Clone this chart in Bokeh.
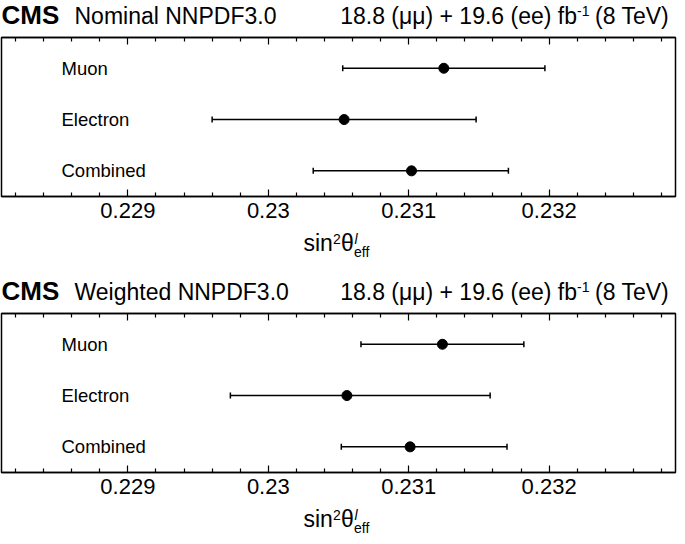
from bokeh.plotting import figure
from bokeh.models import (ColumnDataSource, Whisker, TeeHead, Label, FixedTicker,
                          LinearAxis, CustomJSTickFormatter, Range1d)
from bokeh.layouts import column
from bokeh.embed import file_html
from bokeh.resources import INLINE

# ---------------- data ----------------
categories = ["Muon", "Electron", "Combined"]
cat_pos = [2.5, 1.5, 0.5]

nominal_val = [0.23125, 0.23054, 0.23102]
nominal_lo = [0.23053, 0.22960, 0.23032]
nominal_hi = [0.23197, 0.23148, 0.23171]

weighted_val = [0.23124, 0.23056, 0.23101]
weighted_lo = [0.23066, 0.22973, 0.23052]
weighted_hi = [0.23182, 0.23158, 0.23170]

major_ticks = [0.229, 0.230, 0.231, 0.232]
tick_labels = ["0.229", "0.23", "0.231", "0.232"]
x_min, x_max = 0.2281, 0.2329
panel_titles = ["Nominal NNPDF3.0", "Weighted NNPDF3.0"]
lumi_main = "18.8 (\u03bc\u03bc) + 19.6 (ee) fb"
lumi_sup = "-1"
lumi_end = " (8 TeV)"

FONT = "Liberation Sans"
FRAME_W, FRAME_H = 674, 159
Y_MAX = 3.1
BL, BR = 1, 2
MID = 0.35  # middle of text box above baseline, in em

minor_ticks = [round(0.2282 + 0.0002 * i, 4) for i in range(24)]
minor_ticks = [t for t in minor_ticks if t not in [round(m, 4) for m in major_ticks]]


def strip(height):
    s = figure(frame_width=FRAME_W, frame_height=height,
               x_range=Range1d(x_min, x_max), y_range=Range1d(0, height),
               output_backend="svg", toolbar_location=None,
               x_axis_location=None, y_axis_location=None,
               min_border=0, min_border_left=BL, min_border_right=BR)
    s.grid.grid_line_color = None
    s.outline_line_color = None
    s.background_fill_color = "white"
    s.border_fill_color = "white"
    return s


def lab(x, baseline, text, size_px, xo=0, align="left", style="normal"):
    # positioned by the middle of the text box, computed from the wanted baseline
    return Label(x=x, y=baseline + MID * size_px, x_offset=xo, text=text, text_font=FONT,
                 text_font_size=f"{size_px}px", text_font_style=style,
                 text_baseline="middle", text_align=align, text_color="black")


def title_strip(title):
    s = strip(31)
    yb = 7
    s.add_layout(lab(x_min, yb, "CMS", 26, 0, style="bold"))
    s.add_layout(lab(x_min, yb, title, 23, 73))
    s.add_layout(lab(x_max, yb, lumi_end, 23, 0, align="right"))
    s.add_layout(lab(x_max, yb + 9, lumi_sup, 14, -86, align="right"))
    s.add_layout(lab(x_max, yb, lumi_main, 23, -98.5, align="right"))
    return s


def axis_label_strip(height):
    s = strip(height)
    xc = 0.5 * (x_min + x_max)
    yb = height - 21
    parts = [
        ("sin", -35, 0, 23, "normal"),
        ("2", -5.6, 7.5, 14, "normal"),
        ("\u03b8", 2.4, 0, 23, "normal"),
        ("l", 16.0, 8, 14, "italic"),
        ("eff", 15.5, -5, 14, "normal"),
    ]
    for txt, xo, yo, fs, st in parts:
        s.add_layout(lab(xc, yb + yo, txt, fs, xo, style=st))
    return s


def make_panel(vals, lo, hi):
    p = figure(frame_width=FRAME_W, frame_height=FRAME_H,
               x_range=Range1d(x_min, x_max), y_range=Range1d(0, Y_MAX),
               output_backend="svg", toolbar_location=None,
               x_axis_location=None, y_axis_location=None,
               min_border_left=BL, min_border_right=BR,
               min_border_top=6, min_border_bottom=34)
    p.grid.grid_line_color = None
    p.outline_line_color = "black"
    p.outline_line_width = 1.5
    p.background_fill_color = "white"
    p.border_fill_color = "white"

    ticker = FixedTicker(ticks=major_ticks, minor_ticks=minor_ticks)
    for loc in ("below", "above"):
        ax = LinearAxis(ticker=ticker)
        ax.major_tick_in = 7
        ax.major_tick_out = 0
        ax.minor_tick_in = 4
        ax.minor_tick_out = 0
        ax.axis_line_color = "black"
        ax.axis_line_width = 1.5
        ax.major_tick_line_width = 1.2
        ax.minor_tick_line_width = 1.2
        if loc == "below":
            ax.major_label_overrides = {t: l for t, l in zip(major_ticks, tick_labels)}
            ax.major_label_text_font = FONT
            ax.major_label_text_font_size = "22px"
            ax.major_label_text_color = "black"
            ax.major_label_standoff = 6
        else:
            ax.formatter = CustomJSTickFormatter(code="return ''")
            ax.major_label_standoff = 0
        p.add_layout(ax, loc)

    src = ColumnDataSource(data=dict(x=vals, y=cat_pos, lo=lo, hi=hi))
    w = Whisker(base="y", lower="lo", upper="hi", dimension="width", source=src,
                line_color="black", line_width=1.5,
                upper_head=TeeHead(size=6, line_width=1.5, line_color="black"),
                lower_head=TeeHead(size=6, line_width=1.5, line_color="black"))
    p.add_layout(w)
    p.scatter("x", "y", source=src, size=10, color="black")

    for cat, yy in zip(categories, cat_pos):
        p.add_layout(Label(x=x_min, x_offset=60, y=yy, text=cat, text_font=FONT,
                           text_font_size="18.5px", text_baseline="middle",
                           text_color="black"))
    return p


t1 = title_strip(panel_titles[0])
p1 = make_panel(nominal_val, nominal_lo, nominal_hi)
l1 = axis_label_strip(46)
t2 = title_strip(panel_titles[1])
p2 = make_panel(weighted_val, weighted_lo, weighted_hi)
l2 = axis_label_strip(30)
layout = column(t1, p1, l1, t2, p2, l2, spacing=0)

open("out.html", "w").write(file_html(layout, INLINE))
